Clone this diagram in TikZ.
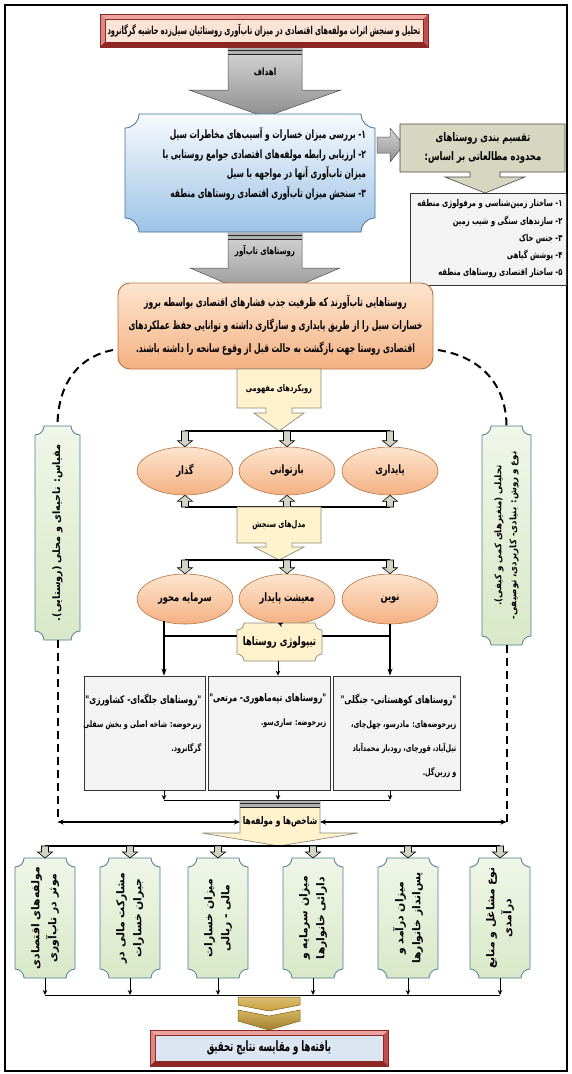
\documentclass[tikz,border=0pt]{standalone}
\usepackage{fontspec}
\usetikzlibrary{shapes.geometric,arrows.meta,calc}
\TeXXeTstate=1
\newfontfamily\fa[Script=Arabic,FakeStretch=0.72]{DejaVu Sans}
\newfontfamily\faN[Script=Arabic,FakeStretch=0.6]{DejaVu Sans}
\newfontfamily\faM[Script=Arabic,FakeStretch=0.65]{DejaVu Sans}
\newfontfamily\faW[Script=Arabic,FakeStretch=0.95]{DejaVu Sans}
\newfontfamily\faX[Script=Arabic]{DejaVu Sans}
\newcommand{\R}[1]{\beginR#1\endR}
\newcommand{\F}[2]{\fa\bfseries\fontsize{#1}{#2}\selectfont}
\newcommand{\FN}[2]{\faN\bfseries\fontsize{#1}{#2}\selectfont}
\newcommand{\FM}[2]{\faM\bfseries\fontsize{#1}{#2}\selectfont}
\newcommand{\FW}[2]{\faW\bfseries\fontsize{#1}{#2}\selectfont}
\newcommand{\FX}[2]{\faX\bfseries\fontsize{#1}{#2}\selectfont}
\definecolor{ttlred}{HTML}{C0504D}
\definecolor{ttllt}{HTML}{E9A3A0}
\definecolor{ttldk}{HTML}{8E2623}
\definecolor{ttlin}{HTML}{FBE3D6}
\definecolor{finin}{HTML}{DCE6F2}
\definecolor{grayA}{HTML}{D6D6D6}
\definecolor{grayB}{HTML}{8E8E8E}
\definecolor{objtop}{HTML}{F7FAFD}
\definecolor{objbot}{HTML}{9DC3E6}
\definecolor{objline}{HTML}{41719C}
\definecolor{khaki}{HTML}{D7D7C1}
\definecolor{listfill}{HTML}{F3F3F3}
\definecolor{orgtop}{HTML}{FDE5CF}
\definecolor{orgbot}{HTML}{F4B183}
\definecolor{orgline}{HTML}{B9733F}
\definecolor{yel}{HTML}{FFF2CC}
\definecolor{yelline}{HTML}{8C8C7A}
\definecolor{grntop}{HTML}{F0F6E8}
\definecolor{grnbot}{HTML}{D9E8C8}
\definecolor{grnline}{HTML}{4F7F91}
\definecolor{blkfill}{HTML}{D4D4C4}
\definecolor{gold}{HTML}{C9A03A}
\definecolor{goldd}{HTML}{7F5F12}
\newcommand{\bevelbox}[5]{%
 \fill[ttlred] (#1,#2) rectangle (#3,#4);
 \fill[ttllt] (#1,#2) -- (#3,#2) -- ({#3-5},{#2+5}) -- ({#1+5},{#2+5}) -- cycle;
 \fill[ttllt!70!ttlred] (#1,#2) -- ({#1+5},{#2+5}) -- ({#1+5},{#4-5}) -- (#1,#4) -- cycle;
 \fill[ttldk] (#1,#4) -- (#3,#4) -- ({#3-5},{#4-5}) -- ({#1+5},{#4-5}) -- cycle;
 \draw[ttldk,line width=0.7pt] (#1,#2) rectangle (#3,#4);
 \draw[ttldk,line width=0.4pt,fill=#5] ({#1+5},{#2+5}) rectangle ({#3-5},{#4-5});}
\newcommand{\grayarrow}[6]{%
 \path[garrow] ({#1-#5},#2) -- ({#1+#5},#2) -- ({#1+#5},#3) -- ({#1+#6},#3) -- (#1,#4) -- ({#1-#6},#3) -- ({#1-#5},#3) -- cycle;
 \fill[gray!60] ({#1-#5},#2) rectangle ({#1+#5},{#2+7});
 \draw[gray!30!black,line width=0.7pt] ({#1-#5},{#2+2.5}) -- ({#1+#5},{#2+2.5}) ({#1-#5},{#2+6}) -- ({#1+#5},{#2+6});}
\newcommand{\plaque}[6][]{%
 \path[#1] ({#2+#6},#3) -- ({#4-#6},#3) .. controls ({#4-#6},{#3+0.55*#6}) and ({#4-0.55*#6},{#3+#6}) .. (#4,{#3+#6}) -- (#4,{#5-#6}) .. controls ({#4-0.55*#6},{#5-#6}) and ({#4-#6},{#5-0.55*#6}) .. ({#4-#6},#5) -- ({#2+#6},#5) .. controls ({#2+#6},{#5-0.55*#6}) and ({#2+0.55*#6},{#5-#6}) .. (#2,{#5-#6}) -- (#2,{#3+#6}) .. controls ({#2+0.55*#6},{#3+#6}) and ({#2+#6},{#3+0.55*#6}) .. cycle;}
\newcommand{\blk}[2]{%
 \path[blkarrow] let \p1=(#1), \p2=(#2), \n1={ifthenelse(\y2>\y1,1,-1)} in
 ({\x1-3.5pt},\y1) -- ({\x1+3.5pt},\y1) -- ({\x1+3.5pt},{\y2-(\n1)*6pt}) -- ({\x1+7.5pt},{\y2-(\n1)*6pt}) -- (\x1,\y2) -- ({\x1-7.5pt},{\y2-(\n1)*6pt}) -- ({\x1-3.5pt},{\y2-(\n1)*6pt}) -- cycle;}
\begin{document}
\begin{tikzpicture}[x=1pt,y=-1pt,
 tn/.style={inner sep=0pt,outer sep=0pt,align=center},
 garrow/.style={draw=gray!60!black,line width=0.5pt,top color=grayA,bottom color=grayB},
 conn/.style={line width=1.6pt},
 arr/.style={-{Stealth[length=5pt,width=4.5pt]},line width=0.9pt},
 bigarr/.style={-{Stealth[length=7pt,width=5pt]},line width=1.5pt},
 dblarr/.style={{Stealth[length=6pt,width=5pt]}-{Stealth[length=6pt,width=5pt]},line width=1.1pt},
 blkarrow/.style={draw=black,line width=0.6pt,fill=blkfill},
 ell/.style={ellipse,draw=orgline,line width=0.6pt,top color=orgtop,bottom color=orgbot,minimum width=96pt,minimum height=48pt,inner sep=0pt,font=\F{11.5}{12}},
 grnplq/.style={draw=grnline,line width=0.8pt,top color=grntop,bottom color=grnbot},
 yelplq/.style={draw=yelline,line width=0.7pt,fill=yel},
 dashln/.style={line width=2pt,dash pattern=on 8pt off 5pt},
 typbox/.style={draw=gray!40!black,line width=0.8pt,fill=listfill,inner sep=0pt},
 hold/.style={inner sep=0pt,outer sep=0pt},
]
\useasboundingbox (0,0) rectangle (572,1074);
\fill[white] (0,0) rectangle (572,1074);
\draw[line width=2pt] (5,5) rectangle (567,1071);

% ---- title
\bevelbox{100}{14}{428}{47}{ttlin}
\node[tn,font=\FN{11}{12}] (title) at (264,31) {\R{تحلیل و سنجش اثرات مولفه‌های اقتصادی در میزان تاب‌آوری روستائیان سیل‌زده حاشیه گرگانرود}};

% ---- arrow 1
\grayarrow{265}{48}{90}{117}{37}{76}
\node[tn,font=\F{10}{10}] (a1) at (265,72) {\R{اهداف}};

% ---- objectives
\plaque[draw=objline,line width=0.8pt,top color=objtop,bottom color=objbot]{125}{114}{375}{232}{14}
\node[hold,minimum width=250pt,minimum height=118pt] (objbox) at (250,173) {};
\node[tn,anchor=east,align=right,font=\FM{11.5}{19.5}] (obj) at (366,164) {\R{۱- بررسی میزان خسارات و آسیب‌های مخاطرات سیل}\\\R{۲- ارزیابی رابطه مولفه‌های اقتصادی جوامع روستایی با}\\\R{میزان تاب‌آوری آنها در مواجهه با سیل}\\\R{۳- سنجش میزان تاب‌آوری اقتصادی روستاهای منطقه}};

% ---- side boxes
\path[garrow] (377,137) -- (390,137) -- (390,128) -- (404,145) -- (390,162) -- (390,153) -- (377,153) -- cycle;
\path[draw=gray!55!black,fill=khaki,line width=0.6pt] (400,124) -- (565,124) -- (565,172) -- (500,172) -- (500,177) -- (525,177) -- (485,193) -- (445,177) -- (470,177) -- (470,172) -- (400,172) -- cycle;
\node[tn,font=\F{11.7}{19}] (side1) at (483,148) {\R{تقسیم بندی روستاهای}\\\R{محدوده مطالعاتی بر اساس:}};
\node[typbox,minimum width=156pt,minimum height=92pt] (side2) at (488,239) {};
\node[tn,anchor=north east,align=right,font=\F{9.4}{17.3}] (side2t) at ([xshift=-4pt,yshift=-7pt]side2.north east) {\R{۱- ساختار زمین‌شناسی و مرفولوژی منطقه}\\\R{۲- سازندهای سنگی و شیب زمین}\\\R{۳- جنس خاک}\\\R{۴- پوشش گیاهی}\\\R{۵- ساختار اقتصادی روستاهای منطقه}};

% ---- arrow 2
\grayarrow{265}{233}{268}{300}{37}{75}
\node[tn,font=\F{9.7}{10}] (a2) at (265,251) {\R{روستاهای تاب‌آور}};

% ---- orange definition box
\path[draw=orgline,line width=0.9pt,top color=orgtop,bottom color=orgbot,rounded corners=12pt] (118,283) rectangle (433,369);
\node[hold,minimum width=315pt,minimum height=86pt] (orgbox) at (275.5,326) {};
\node[tn,font=\FM{11.7}{23}] (org) at (275.5,325) {\R{روستاهایی تاب‌آورند که ظرفیت جذب فشارهای اقتصادی بواسطه بروز}\\\R{خسارات سیل را از طریق پایداری و سازگاری داشته و توانایی حفظ عملکردهای}\\\R{اقتصادی روستا جهت بازگشت به حالت قبل از وقوع سانحه را داشته باشند.}};

% ---- side green boxes and dashed links
\plaque[grnplq]{35}{426}{80}{640}{9}
\node[hold,minimum width=45pt,minimum height=214pt] (g1) at (57.5,533) {};
\node[tn,rotate=90,font=\FW{10.2}{14}] (g1t) at (g1.center) {\R{مقیاس: ناحیه‌ای و محلی (روستایی).}};
\plaque[grnplq]{482}{426}{531}{645}{9}
\node[hold,minimum width=49pt,minimum height=219pt] (g2) at (506.5,535.5) {};
\node[tn,rotate=90,font=\FW{9.1}{15}] (g2t) at (g2.center) {\R{تحلیلی (متغیرهای کمی و کیفی).}\\\R{نوع و روش: بنیادی- کاربردی، توصیفی-}};
\coordinate (dl0) at (113,350);
\coordinate (dr0) at (438,350);
\draw[dashln] (dl0) .. controls (72,358) and (57.5,392) .. (g1.north);
\draw[dashln] (dr0) .. controls (488,358) and (506.5,392) .. (g2.north);
\coordinate (dla) at (57.5,822);
\coordinate (dra) at (506.5,822);
\draw[dashln] (g1.south) -- (dla);
\draw[dashln] (g2.south) -- (dra);

% ---- conceptual approaches
\path[draw=yelline,fill=yel,line width=0.7pt] (237,369) -- (321,369) -- (321,408) -- (292,408) -- (292,413) -- (304,413) -- (279,431) -- (254,413) -- (266,413) -- (266,408) -- (237,408) -- cycle;
\node[tn,font=\F{9.3}{10}] (rv) at (279,389) {\R{رویکردهای مفهومی}};
\coordinate (b1) at (279,431);
\node[ell] (e1) at (185,471) {\R{گذار}};
\node[ell] (e2) at (287,471) {\R{بازتوانی}};
\node[ell] (e3) at (390,471) {\R{پایداری}};
\draw[conn] (e1.north |- b1) -- (e3.north |- b1);
\blk{e1.north |- b1}{e1.north}
\blk{e2.north |- b1}{e2.north}
\blk{e3.north |- b1}{e3.north}

% ---- assessment models
\coordinate (b2) at (279,507);
\draw[conn] (e1.south |- b2) -- (e3.south |- b2);
\blk{e1.south |- b2}{e1.south}
\blk{e2.south |- b2}{e2.south}
\blk{e3.south |- b2}{e3.south}
\path[draw=yelline,fill=yel,line width=0.7pt] (237,507) -- (321,507) -- (321,543) -- (292,543) -- (292,547) -- (304,547) -- (279,560) -- (254,547) -- (266,547) -- (266,543) -- (237,543) -- cycle;
\node[tn,font=\F{9.3}{10}] (md) at (279,525) {\R{مدل‌های سنجش}};
\coordinate (b3) at (279,560);
\node[ell,minimum height=50pt] (e4) at (185,599) {\R{سرمایه محور}};
\node[ell,minimum height=50pt] (e5) at (287,599) {\R{معیشت پایدار}};
\node[ell,minimum height=50pt] (e6) at (390,599) {\R{نوین}};
\draw[conn] (e4.north |- b3) -- (e6.north |- b3);
\blk{e4.north |- b3}{e4.north}
\blk{e5.north |- b3}{e5.north}
\blk{e6.north |- b3}{e6.north}

% ---- typology
\node[typbox,minimum width=121pt,minimum height=114pt] (t1) at (144.5,733) {};
\node[typbox,minimum width=122pt,minimum height=114pt] (t2) at (269,733) {};
\node[typbox,minimum width=127pt,minimum height=114pt] (t3) at (396.5,733) {};
\coordinate (v1) at ([xshift=-21pt,yshift=3pt]e4.south);
\coordinate (v3) at (e6.south);
\coordinate (hh) at (279,636);
\draw[conn] (v1 |- hh) -- (v3 |- hh);
\draw[bigarr] (v1) -- (v1 |- t1.north);
\draw[bigarr] (v3) -- (v3 |- t3.north);
\plaque[yelplq]{237}{623}{322}{661}{7}
\node[hold,minimum width=85pt,minimum height=38pt] (tp) at (279.5,642) {};
\node[tn,font=\F{11.7}{12}] (tpt) at (tp.center) {\R{تیپولوژی روستاها}};
\draw[arr] ([xshift=-6pt]e5.south) -- ([xshift=-1.5pt]tp.north);
\draw[arr] ([xshift=-1.5pt]tp.south) -- ([xshift=-1.5pt]tp.south |- t2.north);
\node[tn,anchor=north east,align=right,font=\F{10.5}{24}] (t1t) at ([xshift=-4pt,yshift=-18pt]t1.north east) {\R{"روستاهای جلگه‌ای- کشاورزی"}\\\fontsize{8.9}{21}\selectfont\R{زیرحوضه: شاخه اصلی و بخش سفلی}\\\fontsize{8.9}{21}\selectfont\R{گرگانرود.}};
\node[tn,anchor=north east,align=right,font=\F{10.5}{24}] (t2t) at ([xshift=-4pt,yshift=-18pt]t2.north east) {\R{"روستاهای تپه‌ماهوری- مرتعی"}\\\fontsize{8.9}{21}\selectfont\R{زیرحوضه: ساری‌سو.}};
\node[tn,anchor=north east,align=right,font=\F{10.5}{24}] (t3t) at ([xshift=-4pt,yshift=-18pt]t3.north east) {\R{"روستاهای کوهستانی- جنگلی"}\\\fontsize{8.9}{21}\selectfont\R{زیرحوضه‌های: مادرسو، چهل‌چای،}\\\fontsize{8.9}{21}\selectfont\R{تیل‌آباد، قورچای، رودبار محمدآباد}\\\fontsize{8.9}{21}\selectfont\R{و زرین‌گل.}};

% ---- indicators
\coordinate (lb) at (279,800);
\draw[arr] (v1 |- t1.south) -- (v1 |- lb);
\draw[arr] ([xshift=-1.5pt]tp.south |- t2.south) -- ([xshift=-1.5pt]tp.south |- lb);
\draw[arr] (v3 |- t3.south) -- (v3 |- lb);
\draw[line width=1pt] (v1 |- lb) -- (v3 |- lb);
\path[draw=yelline,fill=yel,line width=0.7pt] (240,801) -- (320,801) -- (320,833) -- (358,833) -- (279,846) -- (202,833) -- (240,833) -- cycle;
\fill[gray!60] (240,801) rectangle (320,808);
\draw[gray!30!black,line width=0.7pt] (240,803) -- (320,803) (240,807) -- (320,807);
\node[hold,minimum width=80pt,minimum height=24pt] (sh) at (280,822) {};
\node[tn,font=\F{10.5}{10}] (sht) at (sh.center) {\R{شاخص‌ها و مولفه‌ها}};
\draw[dblarr] (dla) -- (sh.west);
\draw[dblarr] (sh.east) -- (dra);

% ---- bottom indicator boxes
\coordinate (b4) at (279,846);
\coordinate (b5) at (279,995);
\foreach \i/\cx in {1/45,2/130,3/218,4/313,5/408,6/500}{
  \plaque[grnplq]{\cx-30}{858}{\cx+30}{978}{9}
  \node[hold,minimum width=60pt,minimum height=120pt] (k\i) at (\cx,918) {};
}
\node[tn,rotate=90,font=\FX{10.8}{17}] at (k1.center) {\R{مولفه‌های اقتصادی}\\\R{موثر در تاب‌آوری}};
\node[tn,rotate=90,font=\FX{10.8}{17}] at (k2.center) {\R{مشارکت مالی در}\\\R{جبران خسارات}};
\node[tn,rotate=90,font=\FX{10.8}{17}] at (k3.center) {\R{میزان خسارات}\\\R{مالی - ریالی}};
\node[tn,rotate=90,font=\FX{10.8}{17}] at (k4.center) {\R{میزان سرمایه و}\\\R{دارائی خانوارها}};
\node[tn,rotate=90,font=\FX{10.8}{17}] at (k5.center) {\R{میزان درآمد و}\\\R{پس‌انداز خانوارها}};
\node[tn,rotate=90,font=\FX{10.8}{17}] at (k6.center) {\R{نوع مشاغل و منابع}\\\R{درآمدی}};
\draw[conn] (k1.north |- b4) -- (k6.north |- b4);
\foreach \i in {1,...,6}{
  \blk{k\i.north |- b4}{k\i.north}
  \draw[arr] (k\i.south) -- (k\i.south |- b5);
}
\draw[line width=1pt] (k1.south |- b5) -- (k6.south |- b5);

% ---- chevron and final box
\path[draw=goldd,line width=0.5pt,top color=gold!70,bottom color=gold] (238,997) -- (300,997) -- (300,1005) -- (269,1011) -- (238,1005) -- cycle;
\path[draw=goldd,line width=0.5pt,top color=gold!80,bottom color=gold!80!black] (238,1010) -- (269,1016) -- (300,1010) -- (300,1021) -- (269,1030) -- (238,1021) -- cycle;
\bevelbox{150}{1030}{388}{1066}{finin}
\node[tn,font=\FN{14.2}{14}] (fin) at (269,1048) {\R{یافته‌ها و مقایسه نتایج تحقیق}};
\end{tikzpicture}
\end{document}
